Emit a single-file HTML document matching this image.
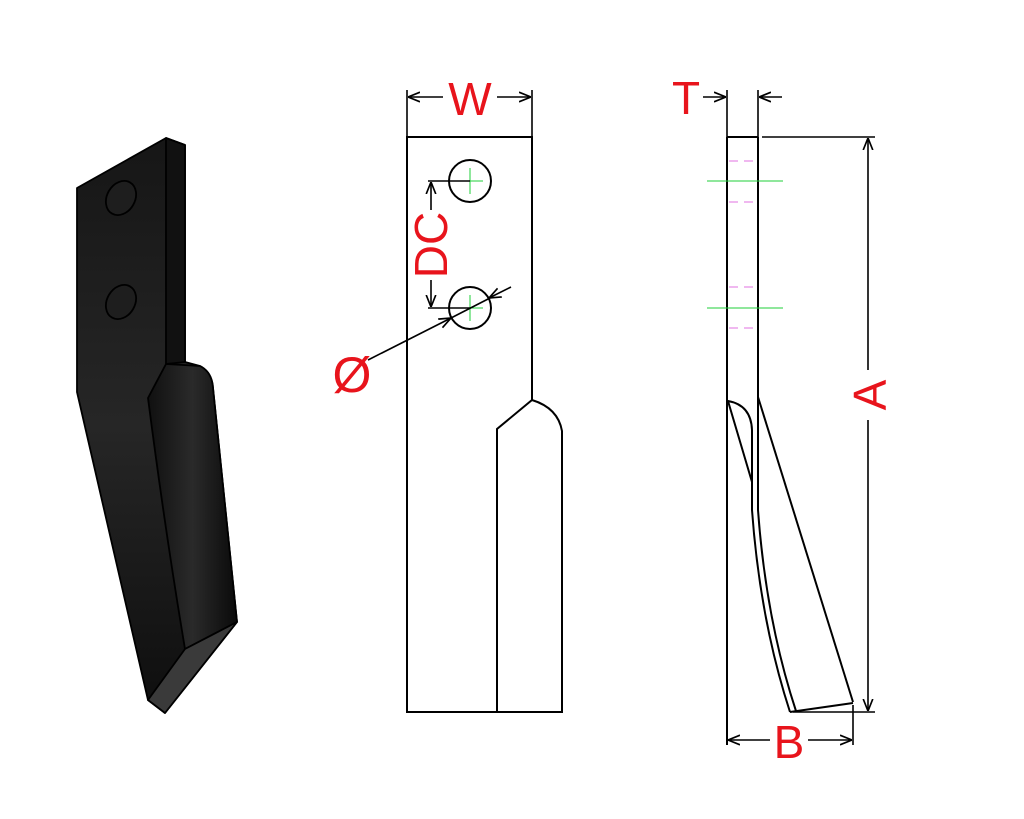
<!DOCTYPE html>
<html><head><meta charset="utf-8"><style>
html,body{margin:0;padding:0;background:#fff;}
svg{display:block}
text{font-family:"Liberation Sans",sans-serif;fill:#e8141c;}
</style></head><body>
<svg width="1024" height="819" viewBox="0 0 1024 819" xmlns="http://www.w3.org/2000/svg">
<defs>
<linearGradient id="g1" x1="0" y1="0" x2="0" y2="1">
<stop offset="0" stop-color="#161616"/><stop offset="0.5" stop-color="#262626"/><stop offset="1" stop-color="#0e0e0e"/>
</linearGradient>
<linearGradient id="g2" x1="0" y1="0" x2="1" y2="0">
<stop offset="0" stop-color="#101010"/><stop offset="0.5" stop-color="#2a2a2a"/><stop offset="1" stop-color="#0a0a0a"/>
</linearGradient>
<marker id="ar" viewBox="0 0 10 10" refX="10" refY="5" markerWidth="12" markerHeight="12" markerUnits="userSpaceOnUse" orient="auto">
<path d="M0,1 L10,5 L0,9" fill="none" stroke="#000" stroke-width="1.4"/>
</marker>
</defs>

<g stroke="#000" stroke-width="1.8" stroke-linejoin="round">
<path d="M77,188 L166,138 L185,145 L185,362 L200,366 Q212,372 213,388 L237,622 L165,713 L148,700 L77,392 Z" fill="url(#g1)"/>
<path d="M166,138 L185,145 L185,362 L166,364 Z" fill="#111"/>
<path d="M166,364 L200,366 Q212,372 213,388 L237,622 L185,649 Q165,530 148,398 Z" fill="url(#g2)"/>
<path d="M185,649 L237,622 L165,713 L148,700 Z" fill="#3a3a3a"/>
<ellipse cx="121" cy="198" rx="14" ry="18" transform="rotate(30 121 198)" fill="#1e1e1e"/>
<ellipse cx="121" cy="302" rx="14" ry="18" transform="rotate(30 121 302)" fill="#1e1e1e"/>
</g>

<g fill="none" stroke="#000" stroke-width="2">
<path d="M532,400 V137 H407 V712 H562 V431 Q558,408 532,400 L497,429 V712"/>
<circle cx="470" cy="181" r="21"/>
<circle cx="470" cy="308" r="21"/>
</g>
<g stroke="#1fcf3a" stroke-width="1">
<line x1="470" y1="168" x2="470" y2="194"/><line x1="458" y1="181" x2="483" y2="181"/>
<line x1="470" y1="295" x2="470" y2="321"/><line x1="458" y1="308" x2="483" y2="308"/>
</g>
<g stroke="#000" stroke-width="1.6" fill="none">
<line x1="407" y1="137" x2="407" y2="90"/><line x1="532" y1="137" x2="532" y2="90"/>
<line x1="443" y1="97" x2="408" y2="97" marker-end="url(#ar)"/>
<line x1="497" y1="97" x2="531" y2="97" marker-end="url(#ar)"/>
<line x1="428" y1="181" x2="470" y2="181"/><line x1="428" y1="308" x2="470" y2="308"/>
<line x1="431" y1="210" x2="431" y2="182" marker-end="url(#ar)"/>
<line x1="431" y1="280" x2="431" y2="307" marker-end="url(#ar)"/>
<line x1="368" y1="360" x2="451" y2="318" marker-end="url(#ar)"/>
<line x1="451" y1="318" x2="490" y2="298"/>
<line x1="511" y1="287" x2="489" y2="298" marker-end="url(#ar)"/>
</g>
<text x="470" y="115" font-size="46" text-anchor="middle">W</text>
<text transform="translate(447,245) rotate(-90)" font-size="46" text-anchor="middle">DC</text>
<text x="352" y="392" font-size="50" text-anchor="middle">Ø</text>

<g fill="none" stroke="#000" stroke-width="2">
<line x1="727" y1="137" x2="727" y2="745"/>
<line x1="727" y1="137" x2="758" y2="137"/>
<line x1="758" y1="137" x2="758" y2="392"/>
<path d="M728,401 Q751,405 752,430 V482 Z"/>
<path d="M752,482 V510 Q760,620 790,712"/>
<path d="M758,392 V510 Q766,620 796,711"/>
<line x1="758" y1="397" x2="853" y2="702"/>
<line x1="790" y1="712" x2="853" y2="703"/>
</g>
<g stroke="#e070e0" stroke-width="1" stroke-dasharray="9,6">
<line x1="729" y1="161" x2="757" y2="161"/><line x1="729" y1="202" x2="757" y2="202"/>
<line x1="729" y1="287" x2="757" y2="287"/><line x1="729" y1="328" x2="757" y2="328"/>
</g>
<g stroke="#1fcf3a" stroke-width="1">
<line x1="707" y1="181" x2="783" y2="181"/><line x1="707" y1="308" x2="783" y2="308"/>
</g>
<g stroke="#000" stroke-width="1.6" fill="none">
<line x1="727" y1="90" x2="727" y2="137"/><line x1="758" y1="90" x2="758" y2="137"/>
<line x1="703" y1="97" x2="726" y2="97" marker-end="url(#ar)"/>
<line x1="782" y1="97" x2="759" y2="97" marker-end="url(#ar)"/>
<line x1="762" y1="137" x2="875" y2="137"/>
<line x1="793" y1="712" x2="875" y2="712"/>
<line x1="868" y1="370" x2="868" y2="138" marker-end="url(#ar)"/>
<line x1="868" y1="420" x2="868" y2="711" marker-end="url(#ar)"/>
<line x1="853" y1="705" x2="853" y2="745"/>
<line x1="770" y1="740" x2="728" y2="740" marker-end="url(#ar)"/>
<line x1="808" y1="740" x2="852" y2="740" marker-end="url(#ar)"/>
</g>
<text x="686" y="114" font-size="46" text-anchor="middle">T</text>
<text transform="translate(886,395) rotate(-90)" font-size="46" text-anchor="middle">A</text>
<text x="789" y="758" font-size="46" text-anchor="middle">B</text>
</svg>
</body></html>
